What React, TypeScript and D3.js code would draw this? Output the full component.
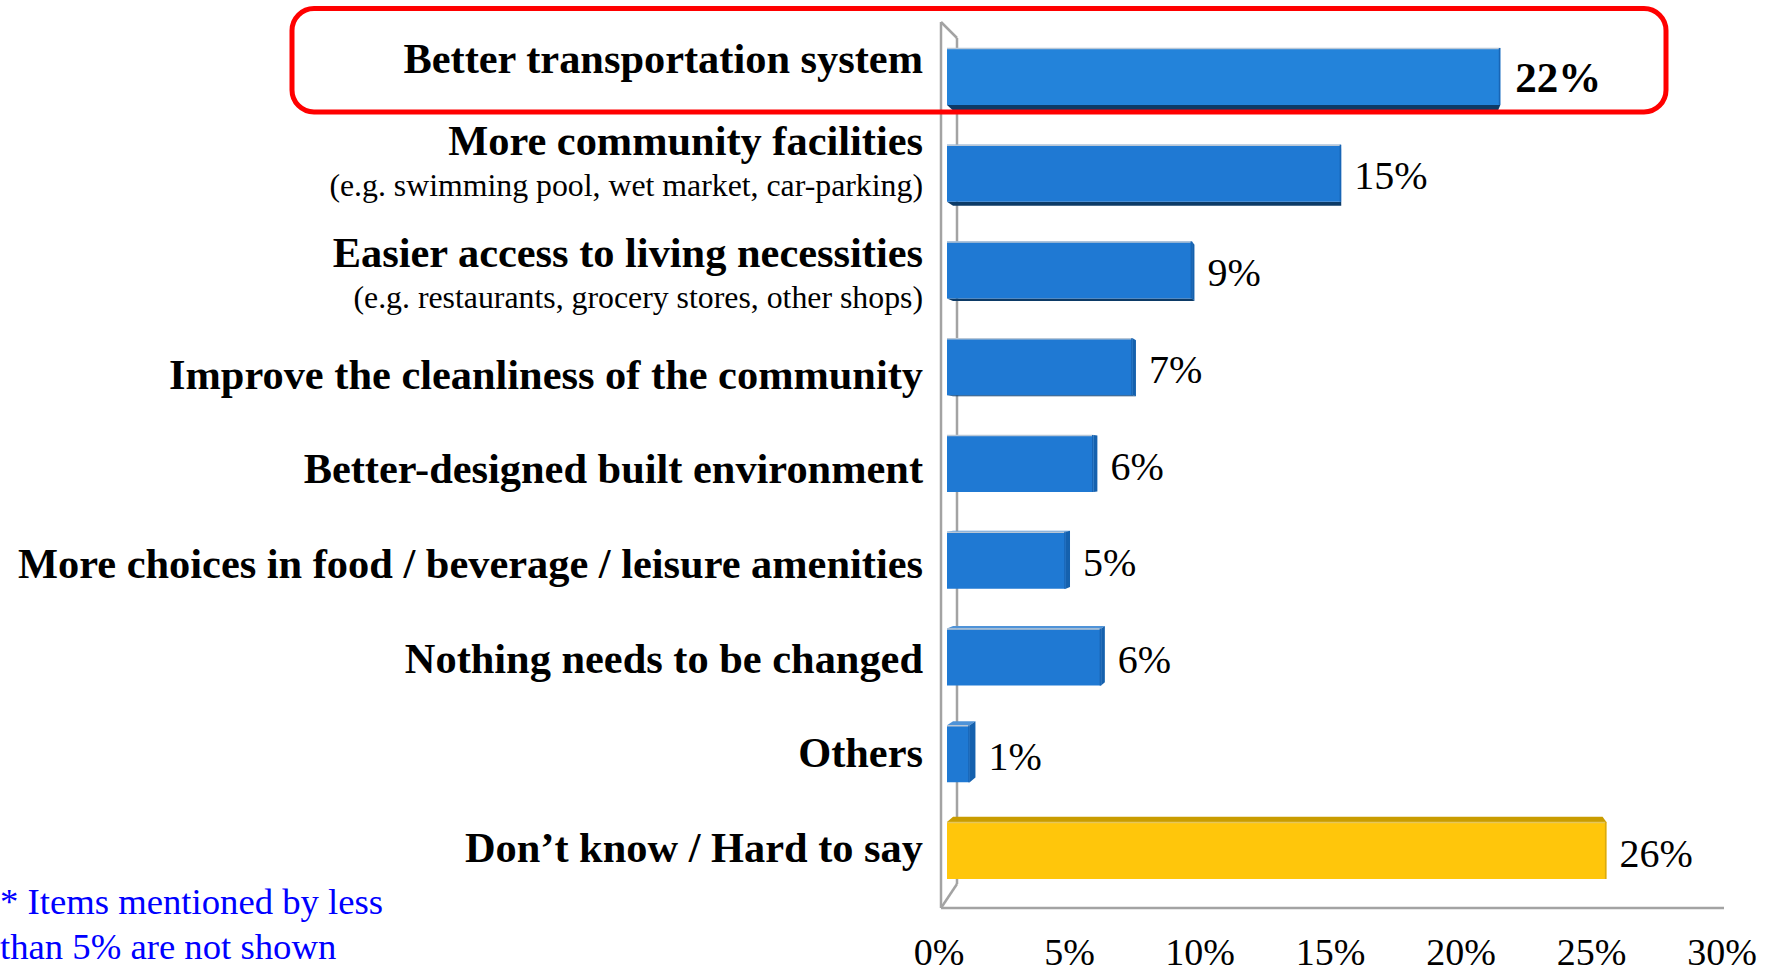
import React from 'react';
import * as d3 from 'd3';

const categories = [
  'Better transportation system',
  'More community facilities',
  'Easier access to living necessities',
  'Improve the cleanliness of the community',
  'Better-designed built environment',
  'More choices in food / beverage / leisure amenities',
  'Nothing needs to be changed',
  'Others',
  'Don\u2019t know / Hard to say',
];
const subLabels = [
  '',
  '(e.g. swimming pool, wet market, car-parking)',
  '(e.g. restaurants, grocery stores, other shops)',
  '', '', '', '', '', '',
];
const values = [21.9, 15.6, 9.7, 7.35, 5.8, 4.7, 6.1, 0.9, 26.1];
const valueLabels = ['22%', '15%', '9%', '7%', '6%', '5%', '6%', '1%', '26%'];
const ticks = [0, 5, 10, 15, 20, 25, 30];
const tickLabels = ['0%', '5%', '10%', '15%', '20%', '25%', '30%'];
const highlightedIndex = 0;
const otherIndex = 8;
const footnote = ['* Items mentioned by less', 'than 5% are not shown'];

// label layout offsets relative to bar centre (manually placed text boxes in original)
const labelDy = [-3.5, -18, -3, 22, 19.5, 18, 16, 13, 11.5];
const subDy = [0, 23, 38, 0, 0, 0, 0, 0, 0];

const FONT = "'Liberation Serif', 'Times New Roman', Times, serif";

export default function App() {
  const W = 1773;
  const H = 974;
  const y = d3.scaleBand<string>().domain(categories).range([48, 879]).paddingInner(0.411).paddingOuter(0);
  const x = d3.scaleLinear().domain([0, 30]).range([941, 1724]);
  const barX0 = 947;
  const depthK = 0.968;
  const bx = (v: number) => barX0 + (x(v) - x(0)) * depthK;
  const vp = { x: 1350, y: 465 };
  const s = 0.985;
  const back = (px: number, py: number): [number, number] => [vp.x + (px - vp.x) * s, vp.y + (py - vp.y) * s];

  const bars = categories.map((c, i) => {
    const t = y(c)!;
    const b = t + y.bandwidth();
    const x0 = bx(0);
    const x1 = bx(values[i]);
    const [x0b, tb] = back(x0, t);
    const [x1b, bb] = back(x1, b);
    const isYellow = i === otherIndex;
    const front = isYellow ? '#ffc60b' : i === highlightedIndex ? '#2383da' : '#1f79d3';
    const topC = isYellow ? '#c99c00' : '#4f93d8';
    const botC = isYellow ? '#a88400' : '#0c3a66';
    const sideC = isYellow ? '#d6a600' : '#1561ae';
    const faces: React.ReactNode[] = [];
    if (bb > b) {
      faces.push(<polygon key="bot" points={`${x0},${b} ${x1},${b} ${x1b},${bb} ${x0b},${bb}`} fill={botC} />);
    }
    if (tb < t) {
      faces.push(<polygon key="top" points={`${x0},${t} ${x1},${t} ${x1b},${tb} ${x0b},${tb}`} fill={topC} />);
    }
    if (x1b > x1) {
      faces.push(<polygon key="side" points={`${x1},${t} ${x1b},${tb} ${x1b},${bb} ${x1},${b}`} fill={sideC} />);
    }
    const cy = t + y.bandwidth() / 2;
    const hl = i === highlightedIndex;
    return (
      <g key={c}>
        {faces}
        <rect x={x0} y={t} width={x1 - x0} height={b - t} fill={front} />
        <line x1={x0} x2={x1} y1={t + 0.5} y2={t + 0.5} stroke={isYellow ? '#e6c65a' : '#b9c7d6'} strokeWidth={1.5} />
        <line x1={x1 - 0.75} x2={x1 - 0.75} y1={t} y2={b} stroke={isYellow ? '#d9aa10' : '#1865b5'} strokeWidth={1.5} />
        <text
          x={Math.max(x1, x1b) + (hl ? 15 : 13)}
          y={cy + 16}
          fontFamily={FONT}
          fontSize={hl ? 43 : 40}
          fontWeight={hl ? 'bold' : 'normal'}
          fill="#000"
        >
          {valueLabels[i]}
        </text>
        <text x={923} y={cy + labelDy[i]} textAnchor="end" fontFamily={FONT} fontSize={42.4} fontWeight="bold" fill="#000">
          {c}
        </text>
        {subLabels[i] && (
          <text x={923} y={cy + subDy[i]} textAnchor="end" fontFamily={FONT} fontSize={31.8} fill="#000">
            {subLabels[i]}
          </text>
        )}
      </g>
    );
  });

  const wallColor = '#a3a3a3';
  const fx = x(0);
  const bxw = fx + 16;
  const floorY = 908;
  const topY = 22;

  return (
    <svg width={W} height={H} style={{ position: 'absolute', left: 0, top: 0, background: '#fff' }}>
      <rect x={0} y={0} width={W} height={H} fill="#fff" />
      <g fill="none" stroke={wallColor} strokeWidth={2.5}>
        <line x1={fx} y1={topY} x2={fx} y2={floorY} />
        <line x1={bxw} y1={topY + 16} x2={bxw} y2={floorY - 24} />
        <line x1={fx} y1={topY} x2={bxw} y2={topY + 16} />
        <line x1={fx} y1={floorY} x2={bxw} y2={floorY - 24} />
        <line x1={fx} y1={floorY} x2={x(30)} y2={floorY} />
      </g>
      {bars}
      {ticks.map((t, i) => (
        <text key={t} x={x(t) - 2} y={965} textAnchor="middle" fontFamily={FONT} fontSize={38} fill="#000">
          {tickLabels[i]}
        </text>
      ))}
      <rect x={292} y={8.5} width={1374} height={103.5} rx={22} ry={22} fill="none" stroke="#ff0000" strokeWidth={5} />
      {footnote.map((line, i) => (
        <text key={i} x={0} y={914 + i * 45} fontFamily={FONT} fontSize={36.7} fill="#0000ff">
          {line}
        </text>
      ))}
    </svg>
  );
}
